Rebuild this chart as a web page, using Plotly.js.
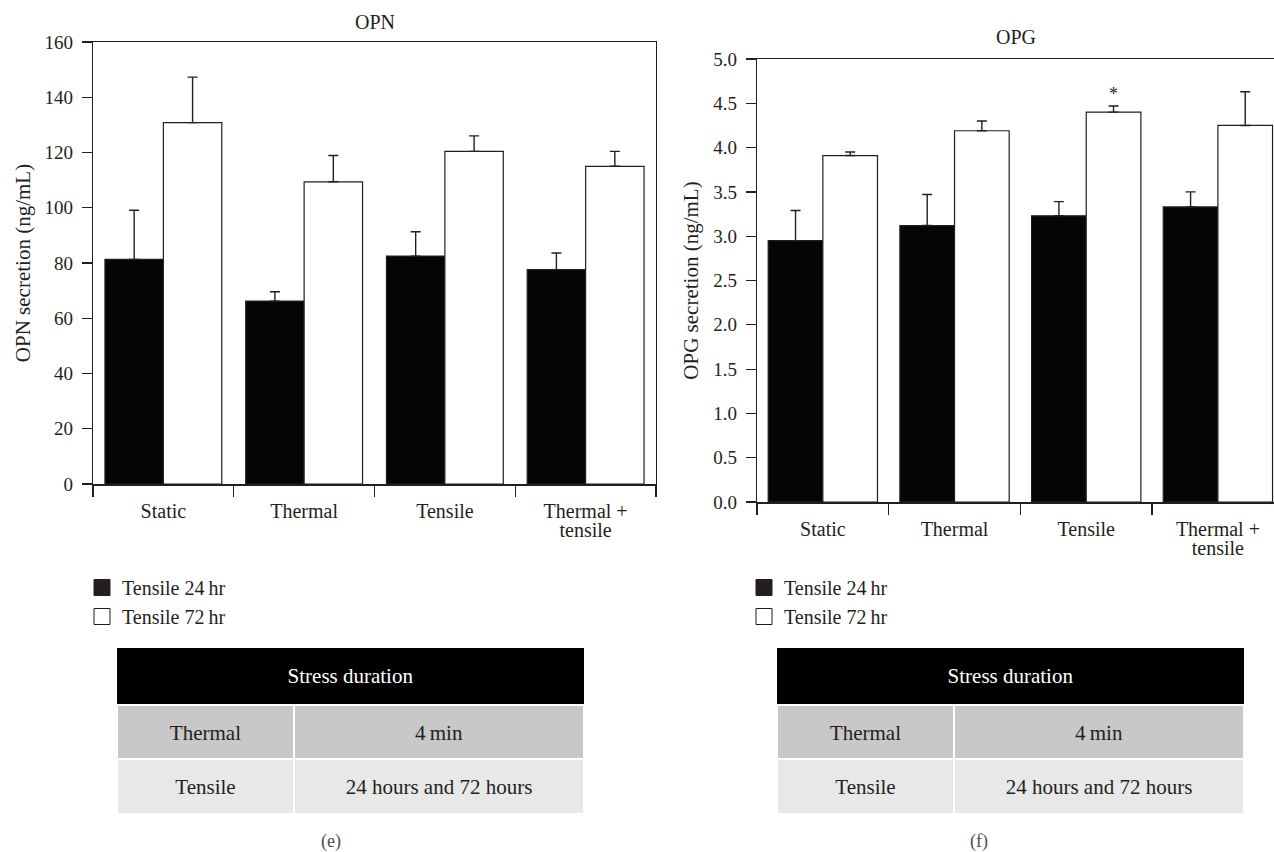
<!DOCTYPE html>
<html>
<head>
<meta charset="utf-8">
<script src="https://cdn.plot.ly/plotly-3.0.1.min.js"></script>
<style>
html,body{margin:0;padding:0;background:#fff;overflow:hidden;}
#chart{width:1274px;height:852px;}
</style>
</head>
<body>
<div id="chart"></div>
<script>
// ---- data ----
const categories = ['Static', 'Thermal', 'Tensile', 'Thermal +<br>tensile'];
const seriesNames = ['Tensile 24\u2009hr', 'Tensile 72\u2009hr'];

const opn24 = [81.3, 66.2, 82.5, 77.6];
const opn24Err = [17.8, 3.4, 8.8, 6.0];
const opn72 = [130.8, 109.4, 120.4, 115.0];
const opn72Err = [16.5, 9.5, 5.6, 5.4];

const opg24 = [2.95, 3.12, 3.23, 3.33];
const opg24Err = [0.34, 0.35, 0.16, 0.17];
const opg72 = [3.91, 4.19, 4.40, 4.25];
const opg72Err = [0.04, 0.11, 0.07, 0.38];

const opnTicks = [0, 20, 40, 60, 80, 100, 120, 140, 160];
const opgTicks = [0, 0.5, 1.0, 1.5, 2.0, 2.5, 3.0, 3.5, 4.0, 4.5, 5.0];

const tableTitle = ['Stress duration'];
const tableStress = ['Thermal', 'Tensile'];
const tableDuration = ['4\u2009min', '24 hours and 72 hours'];

const sigCategory = 'Tensile';   // OPG, 72 hr significant
const sigLabel = '*';

// ---- styling ----
const INK = '#231f20';
const FONT = 'Liberation Serif, Times New Roman, serif';
const W = 1274, H = 852;
const BARGAP = 0.17;
const px = v => v / W;
const py = v => 1 - v / H;
// table text: a small invisible first line pushes the real text down to mid-cell
const TBL_BASE = 12, TBL_SIZE = 21;
const cellText = s => '\u00a0<br><span style="font-size:' + TBL_SIZE + 'px">' + s + '</span>';
// category labels: small base size gives tight line spacing, spans carry the visible size
const TICK_BASE = 15, TICK_SIZE = 20;
const tickLine = s => '<span style="font-size:' + TICK_SIZE + 'px">' + s + '</span>';
const tickText = categories.map(c => c.split('<br>').map(tickLine).join('<br>'));

function bar(xa, ya, y, err, fill, name, lg) {
  return {
    type: 'bar', x: categories, y: y, name: name, xaxis: xa, yaxis: ya,
    showlegend: false, legend: lg,
    marker: {color: fill, line: {color: INK, width: 1.2}},
    error_y: {type: 'data', symmetric: false, array: err, arrayminus: err.map(() => 0),
              color: INK, thickness: 1.4, width: 5},
    hoverinfo: 'skip'
  };
}
function legendProxy(xa, ya, fill, name, lg) {
  return {
    type: 'scatter', mode: 'markers', x: [null], y: [null], xaxis: xa, yaxis: ya,
    name: name, legend: lg, showlegend: true,
    marker: {symbol: 'square', size: 16, color: fill, line: {color: INK, width: 1}},
    hoverinfo: 'skip'
  };
}
function tables(x0, x1) {
  const f = c => ({family: FONT, size: TBL_BASE, color: c});
  return [
    {
      type: 'table', domain: {x: [px(x0), px(x1)], y: [py(705), py(648)]},
      columnwidth: [1],
      header: {values: tableTitle.map(cellText), height: 57, align: 'center',
               fill: {color: '#000'}, line: {color: '#000', width: 0}, font: f('#fff')},
      cells: {values: []}
    },
    {
      type: 'table', domain: {x: [px(x0), px(x1)], y: [py(814), py(705)]},
      columnwidth: [177, 290],
      header: {values: [cellText(tableStress[0]), cellText(tableDuration[0])], height: 54,
               align: 'center', fill: {color: '#c8c8c8'}, line: {color: '#fff', width: 2},
               font: f(INK)},
      cells: {values: [[cellText(tableStress[1])], [cellText(tableDuration[1])]], height: 55,
              align: 'center', fill: {color: '#e8e8e8'}, line: {color: '#fff', width: 2},
              font: f(INK)}
    }
  ];
}

const data = [
  bar('x', 'y', opn24, opn24Err, '#050505', seriesNames[0], 'legend'),
  bar('x', 'y', opn72, opn72Err, '#ffffff', seriesNames[1], 'legend'),
  bar('x2', 'y2', opg24, opg24Err, '#050505', seriesNames[0], 'legend2'),
  bar('x2', 'y2', opg72, opg72Err, '#ffffff', seriesNames[1], 'legend2'),
  legendProxy('x', 'y', '#231f20', seriesNames[0], 'legend'),
  legendProxy('x', 'y', '#ffffff', seriesNames[1], 'legend'),
  legendProxy('x2', 'y2', '#231f20', seriesNames[0], 'legend2'),
  legendProxy('x2', 'y2', '#ffffff', seriesNames[1], 'legend2'),
  ...tables(117, 584),
  ...tables(777, 1245)
];

const xCommon = {
  type: 'category', tickmode: 'array', tickvals: categories, ticktext: tickText,
  tickson: 'boundaries', ticks: 'outside', ticklen: 11, tickwidth: 1.2,
  tickcolor: INK, showline: true, linecolor: INK, linewidth: 1.5, mirror: true,
  showgrid: false, zeroline: false, ticklabelstandoff: 14,
  tickfont: {family: FONT, size: TICK_BASE, color: INK}, fixedrange: true
};
const yCommon = {
  ticks: 'outside', ticklen: 10, tickwidth: 1.2, tickcolor: INK, showline: true,
  linecolor: INK, linewidth: 1.3, mirror: true, showgrid: false, zeroline: false,
  ticklabelstandoff: 5, tickfont: {family: FONT, size: 19, color: INK}, fixedrange: true
};
const legendCommon = {
  orientation: 'v', xanchor: 'left', yanchor: 'top', bgcolor: 'rgba(0,0,0,0)',
  borderwidth: 0, font: {family: FONT, size: 20, color: INK}, itemclick: false,
  itemdoubleclick: false, traceorder: 'normal'
};

const sigOffset = (1 - BARGAP) / 4;
const sigIdx = categories.indexOf(sigCategory);

const layout = {
  width: W, height: H, margin: {l: 0, r: 0, t: 0, b: 0},
  paper_bgcolor: '#fff', plot_bgcolor: '#fff',
  font: {family: FONT, size: 19, color: INK},
  barmode: 'group', bargap: BARGAP, bargroupgap: 0,
  xaxis: Object.assign({}, xCommon, {domain: [px(93), px(656)], anchor: 'y', range: [-0.5, 3.5]}),
  yaxis: Object.assign({}, yCommon, {domain: [py(484), py(42)], anchor: 'x', range: [0, 160],
         tickvals: opnTicks,
         title: {text: 'OPN secretion (ng/mL)', font: {family: FONT, size: 21, color: INK}, standoff: 8}}),
  xaxis2: Object.assign({}, xCommon, {domain: [px(757), 1], anchor: 'y2', range: [-0.5, 3.426]}),
  yaxis2: Object.assign({}, yCommon, {domain: [py(502), py(59)], anchor: 'x2', range: [0, 5],
          tickvals: opgTicks, tickformat: '.1f',
          title: {text: 'OPG secretion (ng/mL)', font: {family: FONT, size: 21, color: INK}, standoff: 8}}),
  legend: Object.assign({}, legendCommon, {x: px(82), y: py(568)}),
  legend2: Object.assign({}, legendCommon, {x: px(744), y: py(568)}),
  annotations: [
    {text: 'OPN', xref: 'paper', yref: 'paper', x: px((93 + 656) / 2), y: py(22),
     xanchor: 'center', yanchor: 'middle', showarrow: false, font: {family: FONT, size: 20, color: INK}},
    {text: 'OPG', xref: 'paper', yref: 'paper', x: px(1016), y: py(37),
     xanchor: 'center', yanchor: 'middle', showarrow: false, font: {family: FONT, size: 20, color: INK}},
    {text: sigLabel, xref: 'x2', yref: 'y2',
     x: sigIdx + sigOffset, y: opg72[sigIdx] + opg72Err[sigIdx],
     xanchor: 'center', yanchor: 'bottom', showarrow: false, font: {family: FONT, size: 18, color: INK}},
    {text: '(e)', xref: 'paper', yref: 'paper', x: px(331), y: py(841),
     xanchor: 'center', yanchor: 'middle', showarrow: false, font: {family: FONT, size: 18, color: '#4d4d4d'}},
    {text: '(f)', xref: 'paper', yref: 'paper', x: px(979), y: py(841),
     xanchor: 'center', yanchor: 'middle', showarrow: false, font: {family: FONT, size: 18, color: '#4d4d4d'}}
  ]
};

Plotly.newPlot('chart', data, layout, {displayModeBar: false, staticPlot: true});
</script>
</body>
</html>
